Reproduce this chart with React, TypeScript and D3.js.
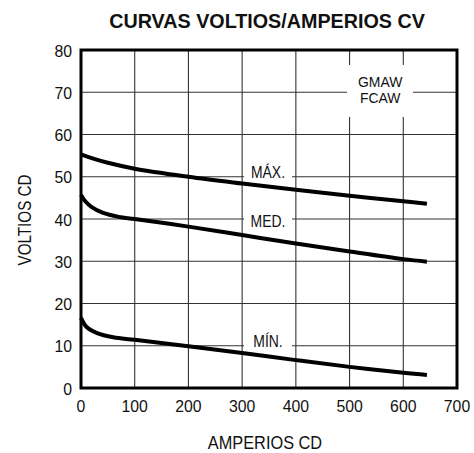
import React, { useEffect, useRef } from 'react';
import * as d3 from 'd3';

// amperes / volts
const maxAmps = [0, 20, 50, 100, 200, 300, 400, 500, 600, 644];
const maxVolts = [55.3, 54.4, 53.3, 51.9, 50.0, 48.4, 46.9, 45.5, 44.2, 43.6];

const medAmps = [0, 8, 20, 40, 70, 100, 200, 300, 400, 500, 600, 644];
const medVolts = [45.7, 44.2, 42.8, 41.5, 40.5, 40.0, 38.2, 36.2, 34.2, 32.3, 30.5, 29.9];

const minAmps = [0, 10, 30, 60, 100, 200, 300, 400, 500, 600, 644];
const minVolts = [16.6, 14.5, 13.0, 12.0, 11.4, 9.9, 8.3, 6.6, 5.0, 3.6, 3.1];

const curveLabels = ['MÁX.', 'MED.', 'MÍN.'];
const labelAmps = [350, 350, 350];
const labelVolts = [50, 40, 10];

const xTicks = [0, 100, 200, 300, 400, 500, 600, 700];
const yTicks = [0, 10, 20, 30, 40, 50, 60, 70, 80];

const FONT = '"Liberation Sans", Arial, sans-serif';

const App = () => {
  const ref = useRef<SVGSVGElement>(null);

  useEffect(() => {
    const svg = d3.select(ref.current);
    svg.selectAll('*').remove();

    const margin = { top: 50, left: 81, right: 17, bottom: 65 };
    const width = 474;
    const height = 453;

    const x = d3.scaleLinear().domain([0, 700]).range([margin.left, width - margin.right]);
    const y = d3.scaleLinear().domain([0, 80]).range([height - margin.bottom, margin.top]);

    // narrow text: the original uses a condensed face
    const label = (
      tx: number,
      ty: number,
      t: string,
      size: number,
      sx: number,
      anchor = 'middle',
      weight = 'normal',
      rot = 0
    ) =>
      svg
        .append('text')
        .attr('transform', `translate(${tx},${ty}) rotate(${rot}) scale(${sx},1)`)
        .attr('text-anchor', anchor)
        .attr('font-family', FONT)
        .attr('font-size', size)
        .attr('font-weight', weight)
        .attr('fill', '#111')
        .text(t);

    // grid
    const grid = svg.append('g').attr('stroke', '#333').attr('stroke-width', 1.1);
    grid
      .selectAll('.vx')
      .data(xTicks.slice(1, -1))
      .enter()
      .append('line')
      .attr('x1', (d) => x(d))
      .attr('x2', (d) => x(d))
      .attr('y1', y(0))
      .attr('y2', y(80));
    grid
      .selectAll('.hy')
      .data(yTicks.slice(1, -1))
      .enter()
      .append('line')
      .attr('x1', x(0))
      .attr('x2', x(700))
      .attr('y1', (d) => y(d))
      .attr('y2', (d) => y(d));

    // GMAW / FCAW box
    svg
      .append('rect')
      .attr('x', 347)
      .attr('y', 65)
      .attr('width', 66)
      .attr('height', 52)
      .attr('fill', 'white');
    label(x(557), 87, 'GMAW', 15.5, 0.9);
    label(x(557), 103, 'FCAW', 15.5, 0.9);

    // curve labels with a white gap in the grid line
    curveLabels.forEach((t, i) => {
      const cx = x(labelAmps[i]) - 1;
      const cy = y(labelVolts[i]);
      svg
        .append('rect')
        .attr('x', cx - 24)
        .attr('y', cy - 2)
        .attr('width', 48)
        .attr('height', 4)
        .attr('fill', 'white');
      label(cx, cy + (i === 1 ? 8 : 1.5), t, 17, 0.82);
    });

    // curves
    const line = d3
      .line<[number, number]>()
      .x((d) => x(d[0]))
      .y((d) => y(d[1]))
      .curve(d3.curveCatmullRom.alpha(0.5));
    const series = [
      maxAmps.map((a, i) => [a, maxVolts[i]] as [number, number]),
      medAmps.map((a, i) => [a, medVolts[i]] as [number, number]),
      minAmps.map((a, i) => [a, minVolts[i]] as [number, number])
    ];
    svg
      .selectAll('.curve')
      .data(series)
      .enter()
      .append('path')
      .attr('d', (d) => line(d))
      .attr('fill', 'none')
      .attr('stroke', '#000')
      .attr('stroke-width', 4);

    // frame
    svg
      .append('rect')
      .attr('x', x(0))
      .attr('y', y(80))
      .attr('width', x(700) - x(0))
      .attr('height', y(0) - y(80))
      .attr('fill', 'none')
      .attr('stroke', '#000')
      .attr('stroke-width', 3);

    // tick labels
    xTicks.forEach((d) => label(x(d), y(0) + 24, String(d), 17, 0.93));
    yTicks.forEach((d) => label(x(0) - 9, y(d) + 6.5, String(d), 17, 0.93, 'end'));

    // titles
    label(267, 28, 'CURVAS VOLTIOS/AMPERIOS CV', 21, 0.94, 'middle', 'bold');
    label(265, 449, 'AMPERIOS CD', 19, 0.86);
    label(31, 220, 'VOLTIOS CD', 19, 0.8, 'middle', 'normal', -90);
  }, []);

  return (
    <svg
      ref={ref}
      width={474}
      height={453}
      style={{ position: 'absolute', left: 0, top: 0, background: 'white' }}
    />
  );
};

export default App;
